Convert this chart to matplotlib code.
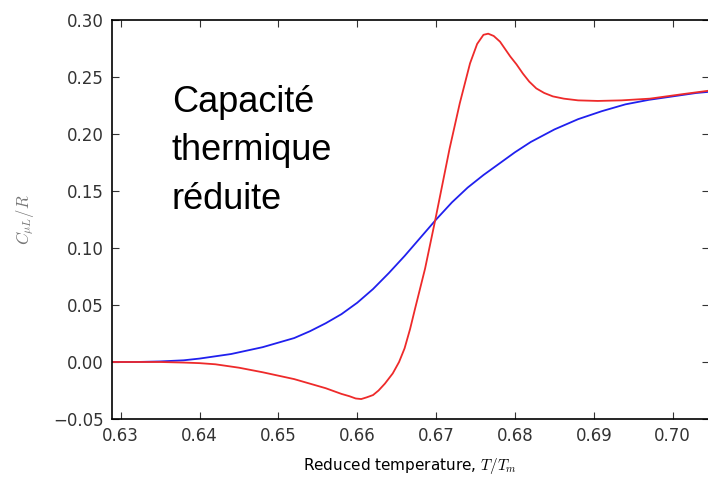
import numpy as np
import matplotlib
matplotlib.use("Agg")
import matplotlib.pyplot as plt

# values
t_blue = [0.6289, 0.632, 0.635, 0.638, 0.640, 0.642, 0.644, 0.646, 0.648,
          0.650, 0.652, 0.654, 0.656, 0.658, 0.660, 0.662, 0.664, 0.666,
          0.668, 0.670, 0.672, 0.674, 0.676, 0.678, 0.680, 0.682, 0.685,
          0.688, 0.691, 0.694, 0.697, 0.700, 0.703, 0.7046]
cp_blue = [0.000, 0.000, 0.0005, 0.0015, 0.003, 0.005, 0.007, 0.010, 0.013,
           0.017, 0.021, 0.027, 0.034, 0.042, 0.052, 0.064, 0.078, 0.093,
           0.109, 0.125, 0.140, 0.153, 0.164, 0.174, 0.184, 0.193, 0.204,
           0.213, 0.220, 0.226, 0.230, 0.233, 0.236, 0.237]

t_red = [0.6289, 0.635, 0.638, 0.640, 0.642, 0.645, 0.648, 0.650, 0.652,
         0.654, 0.656, 0.658, 0.659, 0.6598, 0.6605, 0.6612, 0.6620, 0.6627,
         0.6635, 0.6645, 0.6653, 0.6660, 0.6667, 0.6673, 0.6686, 0.6699,
         0.6717, 0.6730, 0.6743, 0.6752, 0.6760, 0.6766, 0.6773, 0.6781,
         0.6794, 0.6802, 0.6810, 0.6818, 0.6827, 0.6837, 0.6848, 0.6862,
         0.6880, 0.6905, 0.6935, 0.6971, 0.7013, 0.7046]
cp_red = [0.000, 0.000, -0.0005, -0.001, -0.002, -0.005, -0.009, -0.012,
          -0.015, -0.019, -0.023, -0.028, -0.030, -0.032, -0.0325, -0.031,
          -0.029, -0.025, -0.019, -0.010, 0.000, 0.012, 0.029, 0.046, 0.082,
          0.125, 0.187, 0.227, 0.262, 0.279, 0.287, 0.288, 0.286, 0.281,
          0.268, 0.261, 0.253, 0.246, 0.240, 0.236, 0.233, 0.231, 0.2295,
          0.229, 0.2295, 0.231, 0.235, 0.238]

y_ticks = [-0.05, 0.00, 0.05, 0.10, 0.15, 0.20, 0.25, 0.30]
x_ticks = [0.63, 0.64, 0.65, 0.66, 0.67, 0.68, 0.69, 0.70]

plt.rcParams['mathtext.fontset'] = 'cm'
plt.rcParams['font.size'] = 12

fig = plt.figure(figsize=(7.08, 4.80), dpi=100)
ax = fig.add_axes([112 / 708, 61 / 480, 597 / 708, 399 / 480])

ax.plot(t_blue, cp_blue, color='#2020ee', lw=1.3)
ax.plot(t_red, cp_red, color='#ee2a2a', lw=1.3)

ax.set_xlim(0.6289, 0.7046)
ax.set_ylim(-0.05, 0.30)
ax.set_xticks(x_ticks)
ax.set_yticks(y_ticks)
ax.set_xticklabels([f'{v:.2f}' for v in x_ticks])
ax.set_yticklabels([f'{v:.2f}'.replace('-', '\u2212') for v in y_ticks])
ax.tick_params(direction='in', length=5, width=0.8, top=True, right=True,
               pad=6, labelsize=12, colors='#333333')
for s in ax.spines.values():
    s.set_linewidth(1.2)

ax.set_xlabel(r'Reduced temperature, $T/T_m$', fontsize=11, labelpad=8)
ax.set_ylabel(r'$C_{\mu L}/R$', fontsize=12, color='#777777', labelpad=12)

fig.text(172 / 708, 1 - 209 / 480, 'Capacité\nthermique\nréduite',
         family='Liberation Sans', fontsize=26, linespacing=1.5,
         ha='left', va='baseline')

fig.savefig('out.png', dpi=100)
